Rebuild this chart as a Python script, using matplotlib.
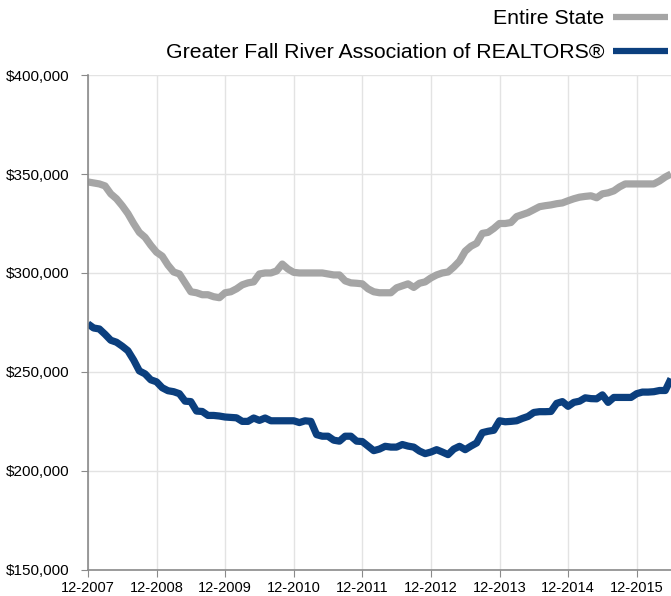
import matplotlib
matplotlib.use("Agg")
import matplotlib.pyplot as plt
from matplotlib.ticker import FuncFormatter

# median sales price, monthly, 12-2007 .. 06-2016 (thousands of dollars)
state = [346, 345.5, 345, 344, 340, 337.5, 334, 330, 325, 320.5, 318, 314,
         310.5, 308.5, 304, 300.5, 299.5, 295, 290.5, 290, 289, 289, 288, 287.5,
         290, 290.5, 292, 294, 295, 295.5, 299.5, 300, 300, 301, 304.5, 302,
         300.3, 300, 300, 300, 300, 300, 299.5, 299, 299, 296, 295, 294.8,
         294.5, 292, 290.5, 290, 290, 290, 292.5, 293.5, 294.5, 292.7, 294.8, 295.5,
         297.5, 299, 300, 300.5, 303, 306, 311, 313.5, 315, 320, 320.5, 322.5,
         325, 325, 325.5, 328.5, 329.5, 330.5, 332, 333.5, 334, 334.4, 335, 335.4,
         336.5, 337.5, 338.3, 338.7, 339, 338, 340, 340.5, 341.5, 343.5, 345, 345,
         345, 345, 345, 345, 346.5, 348.5, 350]

fall_river = [274.3, 272.2, 271.7, 269, 266, 265, 263, 260.7, 256, 250.5, 249, 246,
              245, 242, 240.5, 240, 239, 235.2, 235, 230.2, 230, 228, 228, 227.7,
              227.2, 227, 226.8, 225, 225, 226.7, 225.5, 226.7, 225.3, 225.3, 225.3, 225.3,
              225.3, 224.4, 225.3, 225, 218.3, 217.5, 217.5, 215.5, 215, 217.5, 217.5, 215,
              214.8, 212.5, 210.2, 211, 212.4, 212, 212, 213.3, 212.5, 212, 210, 208.7,
              209.5, 210.7, 209.5, 208.2, 211, 212.4, 210.7, 212.5, 214.1, 219.3, 220, 220.5,
              225.3, 224.8, 225, 225.3, 226.5, 227.5, 229.5, 229.9, 229.9, 230, 234.1, 235,
              232.6, 234.6, 235.2, 236.9, 236.5, 236.4, 238.4, 234.6, 237.1, 237.1, 237.1, 237.1,
              239, 239.8, 239.8, 240, 240.6, 240.6, 246.6]

tick_labels = ["12-2007", "12-2008", "12-2009", "12-2010", "12-2011",
               "12-2012", "12-2013", "12-2014", "12-2015"]

plt.rcParams['font.family'] = ['Liberation Sans', 'DejaVu Sans']

fig = plt.figure(figsize=(6.71, 5.96), dpi=100)
ax = fig.add_axes([0.131, 0.044, 0.869, 0.830])

months = list(range(len(state)))
ax.plot(months, state, color="#a5a5a5", lw=5.2, solid_capstyle="butt",
        solid_joinstyle="round", label="Entire State")
ax.plot(months, fall_river, color="#0b3f7e", lw=5.2, solid_capstyle="butt",
        solid_joinstyle="round", label="Greater Fall River Association of REALTORS®")

ax.set_xlim(0, 102)
ax.set_ylim(150, 400)
ax.set_xticks([12 * i for i in range(len(tick_labels))])
ax.set_xticklabels(tick_labels)
ax.set_yticks([150, 200, 250, 300, 350, 400])
ax.yaxis.set_major_formatter(FuncFormatter(lambda v, p: "${:,.0f}".format(v * 1000)))

ax.grid(True, color="#e3e3e3", lw=1)
ax.set_axisbelow(True)
for s in ["top", "right"]:
    ax.spines[s].set_visible(False)
for s in ["left", "bottom"]:
    ax.spines[s].set_color("#8a8a8a")
    ax.spines[s].set_linewidth(1.2)
ax.tick_params(axis="both", colors="#8a8a8a", length=5, labelcolor="black")
ax.tick_params(axis="y", pad=8, labelsize=11)
ax.tick_params(axis="x", pad=3, labelsize=10.5)

leg = ax.legend(loc="upper right", bbox_to_anchor=(1.0, 0.99),
                bbox_transform=fig.transFigure, frameon=False,
                markerfirst=False, fontsize=15.3, handlelength=2.6,
                handletextpad=0.4, labelspacing=0.7, borderaxespad=0.0,
                borderpad=0.15)
for ln in leg.get_lines():
    ln.set_linewidth(4.5)

fig.savefig("out.png", dpi=100)
